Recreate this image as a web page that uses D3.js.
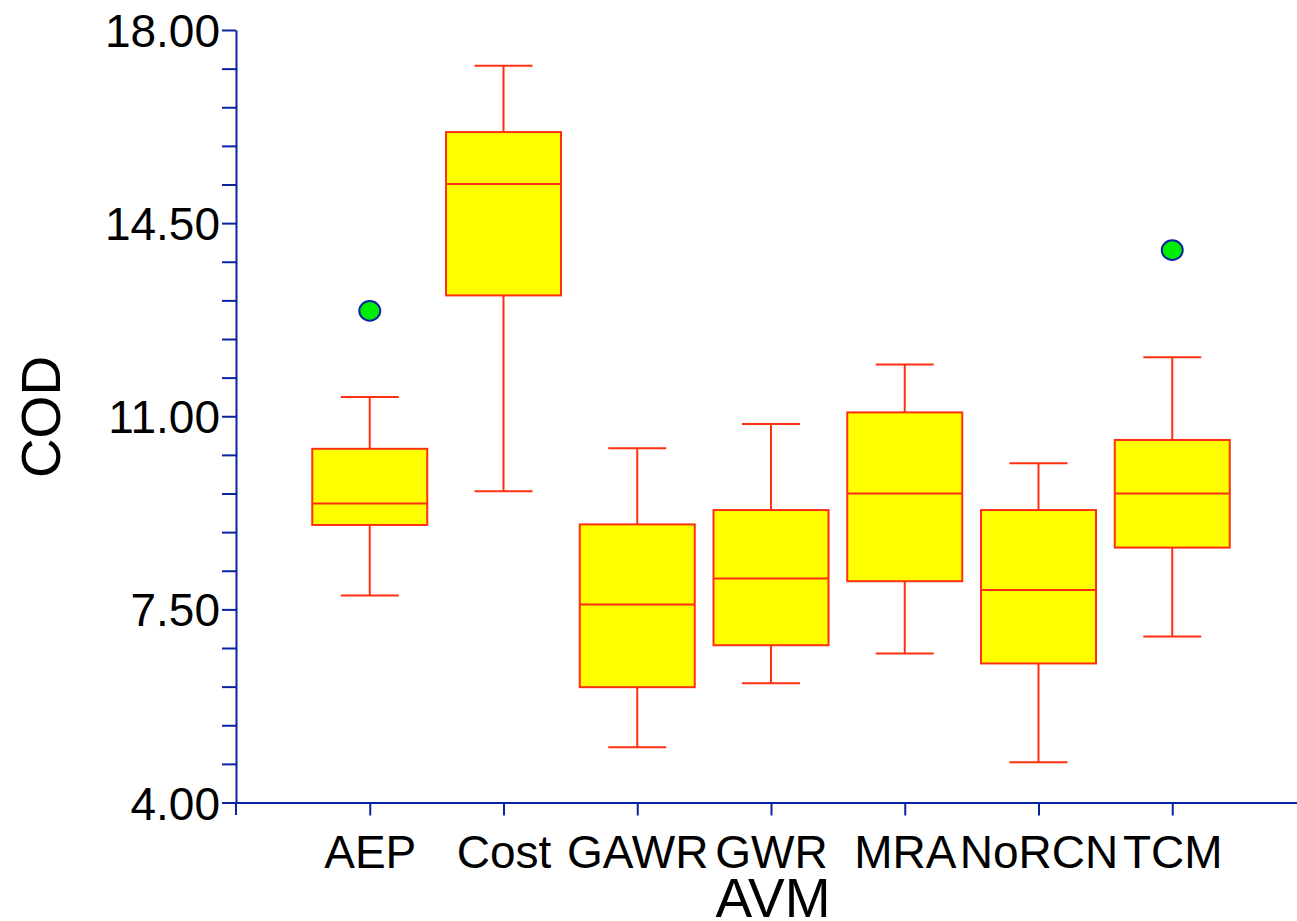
<!DOCTYPE html>
<html>
<head>
<meta charset="utf-8">
<script src="https://cdn.jsdelivr.net/npm/d3@7"></script>
<style>
body { margin: 0; background: #fff; }
svg { display: block; font-family: "Liberation Sans", Arial, sans-serif; }
</style>
</head>
<body>
<script>
var categories = ["AEP", "Cost", "GAWR", "GWR", "MRA", "NoRCN", "TCM"];
var whiskerLow  = [7.75, 9.64, 5.00, 6.16, 6.70, 4.73, 7.01];
var q1          = [9.03, 13.19, 6.09, 6.85, 8.01, 6.52, 8.62];
var median      = [9.42, 15.21, 7.59, 8.06, 9.60, 7.85, 9.60];
var q3          = [10.41, 16.15, 9.04, 9.30, 11.07, 9.30, 10.57];
var whiskerHigh = [11.35, 17.35, 10.42, 10.86, 11.94, 10.15, 12.07];
var outliers    = [{cat: "AEP", value: 12.91}, {cat: "TCM", value: 14.01}];
var yTickLabels = [4.00, 7.50, 11.00, 14.50, 18.00];

var data = categories.map(function(c, i) {
    return {cat: c, lo: whiskerLow[i], q1: q1[i], med: median[i], q3: q3[i], hi: whiskerHigh[i]};
});

var width = 1297, height = 921;
var red = "#ff3010", blue = "#0a24a0";

var svg = d3.select("body").append("svg")
    .attr("width", width)
    .attr("height", height);

var x = d3.scalePoint()
    .domain(categories)
    .range([236, 1306])
    .padding(1);

var y = d3.scaleLinear()
    .domain([4, 18])
    .range([802.5, 30]);

var boxW = 115, capW = 58;

// minor + major ticks every 0.7
var tickVals = d3.range(0, 21).map(function(k) { return +(4 + k * 0.7).toFixed(2); });

var yAxis = d3.axisLeft(y)
    .tickValues(tickVals)
    .tickSize(14)
    .tickSizeOuter(0)
    .tickPadding(2)
    .tickFormat(function(d) {
        return yTickLabels.indexOf(d) >= 0 ? d3.format(".2f")(d) : "";
    });

var gy = svg.append("g")
    .attr("transform", "translate(236,0)")
    .call(yAxis);
gy.select(".domain").attr("stroke", blue).attr("stroke-width", 2);
gy.selectAll(".tick line").attr("stroke", blue).attr("stroke-width", 2);
gy.selectAll(".tick text")
    .attr("fill", "#000")
    .style("font-size", "46px")
    .attr("dy", "0.36em");

var xAxis = d3.axisBottom(x)
    .tickSize(13)
    .tickSizeOuter(0)
    .tickPadding(10);

var gx = svg.append("g")
    .attr("transform", "translate(0,802.5)")
    .call(xAxis);
gx.select(".domain").attr("stroke", blue).attr("stroke-width", 2);
gx.selectAll(".tick line").attr("stroke", blue).attr("stroke-width", 2);
gx.selectAll(".tick text")
    .attr("fill", "#000")
    .style("font-size", "46px")
    .attr("dy", "0.93em");

// small downward extension at the axis origin
svg.append("line")
    .attr("x1", 236).attr("x2", 236)
    .attr("y1", 802).attr("y2", 815)
    .attr("stroke", blue).attr("stroke-width", 2);

// axis titles
svg.append("text")
    .attr("x", 773)
    .attr("y", 917)
    .attr("text-anchor", "middle")
    .style("font-size", "55px")
    .text("AVM");

svg.append("text")
    .attr("transform", "translate(60,417) rotate(-90)")
    .attr("text-anchor", "middle")
    .style("font-size", "55px")
    .text("COD");

// boxes
var g = svg.append("g").selectAll("g")
    .data(data)
    .join("g");

g.append("line")
    .attr("x1", function(d) { return x(d.cat); })
    .attr("x2", function(d) { return x(d.cat); })
    .attr("y1", function(d) { return y(d.hi); })
    .attr("y2", function(d) { return y(d.lo); })
    .attr("stroke", red).attr("stroke-width", 2);

g.append("line")
    .attr("x1", function(d) { return x(d.cat) - capW / 2; })
    .attr("x2", function(d) { return x(d.cat) + capW / 2; })
    .attr("y1", function(d) { return y(d.hi); })
    .attr("y2", function(d) { return y(d.hi); })
    .attr("stroke", red).attr("stroke-width", 2);

g.append("line")
    .attr("x1", function(d) { return x(d.cat) - capW / 2; })
    .attr("x2", function(d) { return x(d.cat) + capW / 2; })
    .attr("y1", function(d) { return y(d.lo); })
    .attr("y2", function(d) { return y(d.lo); })
    .attr("stroke", red).attr("stroke-width", 2);

g.append("rect")
    .attr("x", function(d) { return x(d.cat) - boxW / 2; })
    .attr("width", boxW)
    .attr("y", function(d) { return y(d.q3); })
    .attr("height", function(d) { return y(d.q1) - y(d.q3); })
    .attr("fill", "#ffff00")
    .attr("stroke", red).attr("stroke-width", 2);

g.append("line")
    .attr("x1", function(d) { return x(d.cat) - boxW / 2; })
    .attr("x2", function(d) { return x(d.cat) + boxW / 2; })
    .attr("y1", function(d) { return y(d.med); })
    .attr("y2", function(d) { return y(d.med); })
    .attr("stroke", red).attr("stroke-width", 2);

// outliers
svg.append("g").selectAll("ellipse")
    .data(outliers)
    .join("ellipse")
    .attr("cx", function(d) { return x(d.cat); })
    .attr("cy", function(d) { return y(d.value); })
    .attr("rx", 10.5)
    .attr("ry", 9.8)
    .attr("fill", "#00ee00")
    .attr("stroke", blue)
    .attr("stroke-width", 2);
</script>
</body>
</html>
